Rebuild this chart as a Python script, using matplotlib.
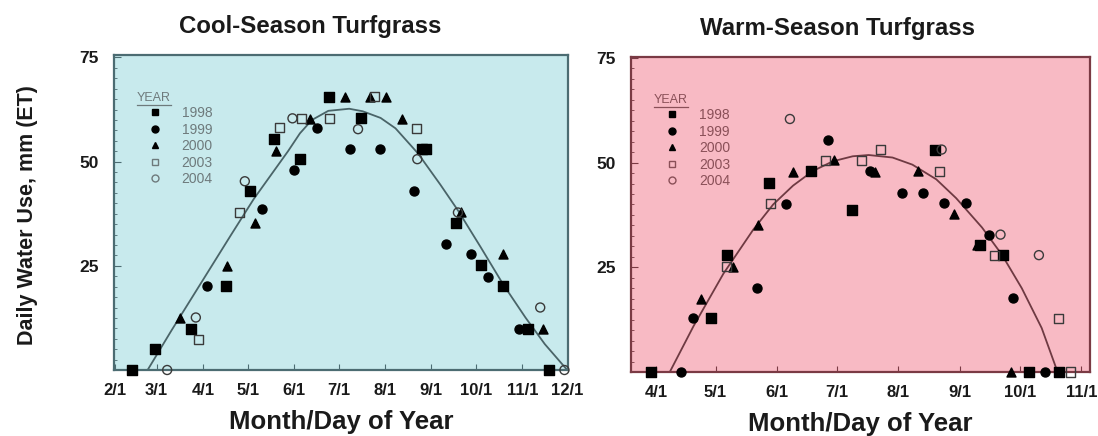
import matplotlib
matplotlib.use("Agg")
import matplotlib.pyplot as plt
from matplotlib.lines import Line2D
from matplotlib.ticker import MultipleLocator

plt.rcParams['font.family'] = ['Liberation Sans', 'DejaVu Sans']

# ---- tick data (day of year) ----
cool_ticks = [32, 60, 91, 121, 152, 182, 213, 244, 274, 305, 335]
cool_tick_labels = ["2/1", "3/1", "4/1", "5/1", "6/1", "7/1", "8/1", "9/1", "10/1", "11/1", "12/1"]
warm_ticks = [91, 121, 152, 182, 213, 244, 274, 305]
warm_tick_labels = ["4/1", "5/1", "6/1", "7/1", "8/1", "9/1", "10/1", "11/1"]
y_ticks = [25, 50, 75]
years = ["1998", "1999", "2000", "2003", "2004"]

# ---- Cool-season observations (day of year, mm) ----
cool_1998_x = [175.5, 197.2, 138.5, 155.9, 122.4, 106.2, 83, 58.9, 43.7, 237.5, 240.5, 260.2, 277, 292.3, 309, 323.1]
cool_1998_y = [65.6, 60.4, 55.5, 50.6, 42.9, 20.2, 9.9, 5.0, 0, 53.0, 53.0, 35.2, 25.1, 20.2, 9.9, 0]
cool_1999_x = [167.7, 152.1, 130.3, 93.5, 189.3, 209.4, 232.1, 253.5, 270.7, 281.8, 302.6]
cool_1999_y = [58.1, 48.0, 38.6, 20.2, 53.0, 53.0, 42.9, 30.2, 27.8, 22.4, 9.9]
cool_2000_x = [162.6, 140.3, 125.8, 106.9, 75.6, 186, 202.7, 213.9, 224.6, 264, 292.3, 318.6]
cool_2000_y = [60.3, 52.6, 35.2, 25.0, 12.6, 65.5, 65.6, 65.5, 60.3, 37.8, 27.8, 9.9]
cool_2003_x = [157, 175.5, 142, 115.3, 87.9, 206, 233.9]
cool_2003_y = [60.4, 60.4, 58.1, 37.7, 7.4, 65.6, 58.0]
cool_2004_x = [151, 119.1, 86.3, 67.1, 194.9, 234.6, 261.8, 316.9, 333.1]
cool_2004_y = [60.4, 45.3, 12.6, 0, 57.8, 50.6, 37.8, 15.0, 0]

# fitted curve
cool_fit_x = [54, 70, 90, 110, 125, 140, 148, 156, 164, 175, 189, 198, 210, 220, 235, 250, 262, 277, 292, 307, 320, 335]
cool_fit_y = [0, 9.5, 21, 32.5, 41, 48.5, 52.5, 56.8, 60, 62.2, 62.7, 62.1, 60.5, 58, 52, 44.5, 38.2, 29.5, 20.6, 12.6, 6.2, 0]

# ---- Warm-season observations ----
warm_1998_x = [168.8, 148, 189.4, 126.6, 118.7, 88.6, 231.3, 265.6, 254, 278.7, 293.6]
warm_1998_y = [47.9, 45.1, 38.6, 27.9, 12.8, 0, 53.1, 27.9, 30.2, 0, 0]
warm_1999_x = [177.7, 156.4, 198.6, 214.6, 225.4, 235.8, 246.7, 258.6, 270.7, 286.6, 141.7, 109.5, 103.7]
warm_1999_y = [55.5, 40.2, 48.1, 42.8, 42.8, 40.3, 40.3, 32.8, 17.7, 0, 20.1, 12.8, 0]
warm_2000_x = [180.7, 159.8, 142.5, 129.6, 113.7, 222.9, 240.8, 252.3, 269.8, 201.1]
warm_2000_y = [50.5, 47.7, 35.0, 25.1, 17.5, 47.9, 37.6, 30.2, 0, 47.7]
warm_2003_x = [176.5, 194.5, 148.4, 204.2, 233.8, 261.5, 293.6, 299.5, 126.3]
warm_2003_y = [50.6, 50.6, 40.3, 53.1, 47.9, 27.9, 12.8, 0, 25.1]
warm_2004_x = [158.4, 234.7, 264.3, 283.6]
warm_2004_y = [60.4, 53.1, 32.8, 27.9]

warm_fit_x = [98, 110, 125, 140, 150, 160, 170, 180, 190, 198, 210, 220, 232, 242, 255, 265, 275, 285, 293]
warm_fit_y = [0, 11, 23.5, 34, 40, 44.5, 48, 50.3, 51.5, 51.8, 51.2, 49.5, 46, 41.5, 34.5, 28, 20, 10.5, 0]

W, H = 1098, 436
fig = plt.figure(figsize=(W / 100, H / 100), dpi=100)
fig.patch.set_facecolor('white')

ax1 = fig.add_axes([114 / W, 1 - 370 / H, 454 / W, 315 / H])
ax2 = fig.add_axes([631 / W, 1 - 372 / H, 459 / W, 315 / H])

styles = [
    dict(marker='s', facecolor='black', edgecolor='black'),
    dict(marker='o', facecolor='black', edgecolor='black'),
    dict(marker='^', facecolor='black', edgecolor='black'),
    dict(marker='s', facecolor='none', edgecolor='#3a3a3a'),
    dict(marker='o', facecolor='none', edgecolor='#3a3a3a'),
]

NARROW = ['Liberation Sans Narrow', 'Liberation Sans']


def draw_panel(ax, series, fit_x, fit_y, bg, spine_col, curve_col, leg_col,
               xlim, ticks, labels, title, title_x, ylim_top):
    ax.set_facecolor(bg)
    for (xs, ys), st in zip(series, styles):
        ax.scatter(xs, ys, s=42, marker=st['marker'], facecolors=st['facecolor'],
                   edgecolors=st['edgecolor'], linewidths=1.0, zorder=3, clip_on=False)
    ax.plot(fit_x, fit_y, color=curve_col, lw=1.3, zorder=2)
    ax.set_xlim(*xlim)
    ax.set_ylim(0, ylim_top)
    ax.set_xticks(ticks)
    ax.set_xticklabels(labels, fontsize=12, fontweight='bold', color='#1a1a1a')
    ax.set_yticks(y_ticks)
    ax.set_yticklabels([str(v) for v in y_ticks], fontsize=12.5, fontweight='bold', color='#1a1a1a')
    ax.yaxis.set_minor_locator(MultipleLocator(2.5))
    ax.tick_params(axis='x', direction='in', length=4, width=0.8, color=spine_col, pad=9)
    ax.tick_params(axis='y', which='major', direction='in', length=5, width=0.8, color=spine_col, pad=11)
    ax.tick_params(axis='y', which='minor', direction='in', length=2.5, width=0.6, color=spine_col)
    for sp in ax.spines.values():
        sp.set_color(spine_col)
        sp.set_linewidth(1.6)
    ax.set_xlabel("Month/Day of Year", fontsize=18.5, fontweight='bold', color='#1a1a1a', labelpad=9)
    ax.text(title_x, 1.09, title, transform=ax.transAxes, ha='center', va='center',
            fontsize=17.3, fontweight='bold', color='#1a1a1a')

    handles = [Line2D([], [], linestyle='none', marker=st['marker'], markersize=5,
                      markerfacecolor=st['facecolor'],
                      markeredgecolor=leg_col if st['facecolor'] == 'none' else 'black',
                      markeredgewidth=1.0)
               for st in styles]
    leg = ax.legend(handles, years, loc='upper left', bbox_to_anchor=(0.074, 0.838),
                    frameon=False, handlelength=1.0, handletextpad=1.45,
                    labelspacing=0.18, borderpad=0, borderaxespad=0,
                    prop={'family': NARROW, 'size': 10})
    for t in leg.get_texts():
        t.set_color(leg_col)
    ax.text(0.087, 0.862, "YEAR", transform=ax.transAxes, ha='center', va='center',
            fontsize=9, color=leg_col, family=NARROW)
    ax.plot([0.051, 0.125], [0.840, 0.840], transform=ax.transAxes, color=leg_col, lw=0.9,
            clip_on=False)


draw_panel(ax1,
           [(cool_1998_x, cool_1998_y), (cool_1999_x, cool_1999_y), (cool_2000_x, cool_2000_y),
            (cool_2003_x, cool_2003_y), (cool_2004_x, cool_2004_y)],
           cool_fit_x, cool_fit_y, '#c8eaed', '#4c6c72', '#4a6468', '#6e7a7c',
           (31.5, 335.5), cool_ticks, cool_tick_labels, "Cool-Season Turfgrass", 0.433, 75.6)
draw_panel(ax2,
           [(warm_1998_x, warm_1998_y), (warm_1999_x, warm_1999_y), (warm_2000_x, warm_2000_y),
            (warm_2003_x, warm_2003_y), (warm_2004_x, warm_2004_y)],
           warm_fit_x, warm_fit_y, '#f8bac4', '#7a3a44', '#6e3a42', '#8a5058',
           (78.5, 309.3), warm_ticks, warm_tick_labels, "Warm-Season Turfgrass", 0.45, 75.2)

fig.text(28 / W, 1 - 215 / H, "Daily Water Use, mm (ET)", rotation=90, ha='center', va='center',
         fontsize=15.5, fontweight='bold', color='#1a1a1a')

fig.savefig("out.png", dpi=100)
